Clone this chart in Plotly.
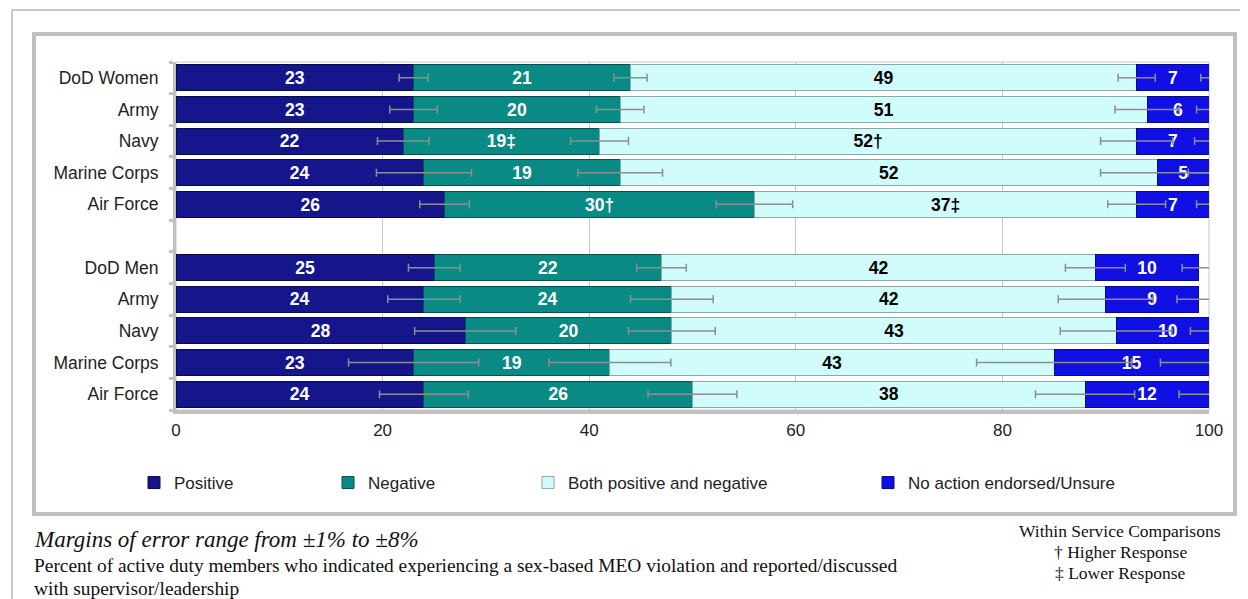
import numpy as np
import plotly.graph_objects as go

# ---------------- data ----------------
women_labels = ["DoD Women", "Army", "Navy", "Marine Corps", "Air Force"]
men_labels = ["DoD Men", "Army", "Navy", "Marine Corps", "Air Force"]

positive = [23, 23, 22, 24, 26, 25, 24, 28, 23, 24]
negative = [21, 20, 19, 19, 30, 22, 24, 20, 19, 26]
both = [49, 51, 52, 52, 37, 42, 42, 43, 43, 38]
unsure = [7, 6, 7, 5, 7, 10, 9, 10, 15, 12]

negative_marks = ["", "", "‡", "", "†", "", "", "", "", ""]
both_marks = ["", "", "†", "", "‡", "", "", "", "", ""]

positive_moe = [1.4, 2.3, 2.5, 4.6, 2.4, 2.5, 3.5, 4.9, 6.3, 4.3]
negative_moe = [1.6, 2.3, 2.8, 4.1, 3.7, 2.4, 4.0, 4.2, 5.9, 4.3]
both_moe = [1.8, 3.1, 3.5, 5.5, 2.8, 2.9, 4.6, 5.4, 7.5, 4.8]
unsure_moe = [0.8, 1.2, 1.4, 2.0, 1.2, 1.6, 2.1, 2.8, 4.7, 2.9]

x_ticks = [0, 20, 40, 60, 80, 100]

# ---------------- layout constants ----------------
# the page body adds an 8px margin, so the figure is 8px smaller and all
# screen positions below are shifted by 8px
OFF = 8
W, H = 1248 - OFF, 599 - OFF
PL, PR, PT, PB = 176, 1209, 62, 410          # plot area on screen
ML, MT = PL - OFF, PT - OFF
MR, MB = W - (PR - OFF), H - (PB - OFF)
PW, PH = PR - PL, PB - PT


def xp(px):
    return (px - PL) / PW


def yp(py):
    return (PB - py) / PH


SANS = "Liberation Sans, Arial, sans-serif"
SERIF = "Liberation Serif, Times New Roman, serif"

# y positions: two groups of five rows separated by one empty row
y_pos = list(range(len(women_labels))) + [i + len(women_labels) + 1 for i in range(len(men_labels))]
y_text = women_labels + men_labels
n_slots = len(women_labels) + len(men_labels) + 1

series = [
    dict(name="Positive", vals=positive, moe=positive_moe, marks=[""] * 10,
         color="#16168c", line="#0a0a50", tcolor="white", legend="legend", lx=174),
    dict(name="Negative", vals=negative, moe=negative_moe, marks=negative_marks,
         color="#0a8a84", line="#05504d", tcolor="white", legend="legend2", lx=368),
    dict(name="Both positive and negative", vals=both, moe=both_moe, marks=both_marks,
         color="#d0fcfc", line="#8aa8a8", tcolor="black", legend="legend3", lx=568),
    dict(name="No action endorsed/Unsure", vals=unsure, moe=unsure_moe, marks=[""] * 10,
         color="#1010e4", line="#08088a", tcolor="white", legend="legend4", lx=908),
]

fig = go.Figure()

for s in series:
    fig.add_trace(go.Bar(
        y=y_pos, x=s["vals"], orientation="h", name=s["name"],
        marker=dict(color=s["color"], line=dict(color=s["line"], width=1)),
        text=[f"{v}{m}" for v, m in zip(s["vals"], s["marks"])],
        textposition="inside", insidetextanchor="middle", textangle=0,
        textfont=dict(color=s["tcolor"], size=18.5, family=SANS, weight="bold"),
        legend=s["legend"], hoverinfo="skip",
    ))

# error bars drawn on top at the cumulative end of each segment
cum = np.zeros(len(positive))
for s in series:
    cum = cum + np.array(s["vals"], dtype=float)
    fig.add_trace(go.Scatter(
        y=y_pos, x=cum.tolist(), mode="markers",
        marker=dict(size=1, color="rgba(0,0,0,0)"),
        error_x=dict(type="data", array=s["moe"], color="#8e8e8e", thickness=1.5, width=4),
        showlegend=False, hoverinfo="skip",
    ))

boundaries = [i - 0.5 for i in range(n_slots + 1)]

fig.update_layout(
    width=W, height=H,
    margin=dict(l=ML, r=MR, t=MT, b=MB),
    paper_bgcolor="white", plot_bgcolor="white",
    barmode="stack", bargap=0.18,
    font=dict(family=SANS, color="#222222", size=17),
    xaxis=dict(range=[0, 100], tickvals=x_ticks, showgrid=True, gridcolor="#c8c8c8", gridwidth=1,
               showline=True, linecolor="#c0c0c0", linewidth=4, ticks="", zeroline=False,
               tickfont=dict(size=17, color="#222222"), ticklabelstandoff=2),
    yaxis=dict(range=[n_slots - 0.5, -0.5], tickvals=y_pos, ticktext=y_text, ticks="",
               showgrid=False, zeroline=False, showline=True, linecolor="#c0c0c0", linewidth=3,
               tickfont=dict(size=17.5, color="#222222"), ticklabelstandoff=11,
               minor=dict(tickvals=boundaries, ticks="outside", ticklen=4, tickwidth=3,
                          tickcolor="#c0c0c0", showgrid=False)),
)

leg_common = dict(orientation="h", xref="container", yref="container", xanchor="left",
                  yanchor="middle", y=1 - (483 - OFF) / H, bgcolor="rgba(0,0,0,0)",
                  font=dict(size=17, family=SANS, color="#222222"), itemwidth=30)
for s in series:
    fig.update_layout({s["legend"]: dict(leg_common, x=(s["lx"] - OFF - 40) / W)})

# frames
fig.add_shape(type="rect", xref="paper", yref="paper", x0=0, x1=1, y0=0, y1=1,
              line=dict(color="#c8c8c8", width=1), layer="below")
fig.add_shape(type="rect", xref="paper", yref="paper", x0=xp(34), x1=xp(1235), y0=yp(34), y1=yp(514),
              line=dict(color="#c0c0c0", width=4), fillcolor="rgba(0,0,0,0)", layer="below")
fig.add_shape(type="line", xref="paper", yref="paper", x0=xp(12), x1=xp(1260), y0=yp(10), y1=yp(10),
              line=dict(color="#c8c8c8", width=2))
fig.add_shape(type="line", xref="paper", yref="paper", x0=xp(12), x1=xp(12), y0=yp(10), y1=yp(610),
              line=dict(color="#c8c8c8", width=2))

# notes
fig.add_annotation(xref="paper", yref="paper", x=xp(32), y=yp(539), xanchor="left", yanchor="middle",
                   text="<i>Margins of error range from ±1% to ±8%</i>", showarrow=False,
                   font=dict(family=SERIF, size=23, color="#111111"))
note_lines = ["Percent of active duty members who indicated experiencing a sex-based MEO violation and reported/discussed",
              "with supervisor/leadership"]
for i, line in enumerate(note_lines):
    fig.add_annotation(xref="paper", yref="paper", x=xp(32), y=yp(565 + 23 * i), xanchor="left",
                       yanchor="middle", align="left", showarrow=False, text=line,
                       font=dict(family=SERIF, size=19.4, color="#111111"))
legend_note = ["Within Service Comparisons", "† Higher Response", "‡ Lower Response"]
for i, line in enumerate(legend_note):
    fig.add_annotation(xref="paper", yref="paper", x=xp(1120), y=yp(531 + 21 * i), xanchor="center",
                       yanchor="middle", align="center", showarrow=False, text=line,
                       font=dict(family=SERIF, size=17.5, color="#111111"))

fig.write_html("out.html")
